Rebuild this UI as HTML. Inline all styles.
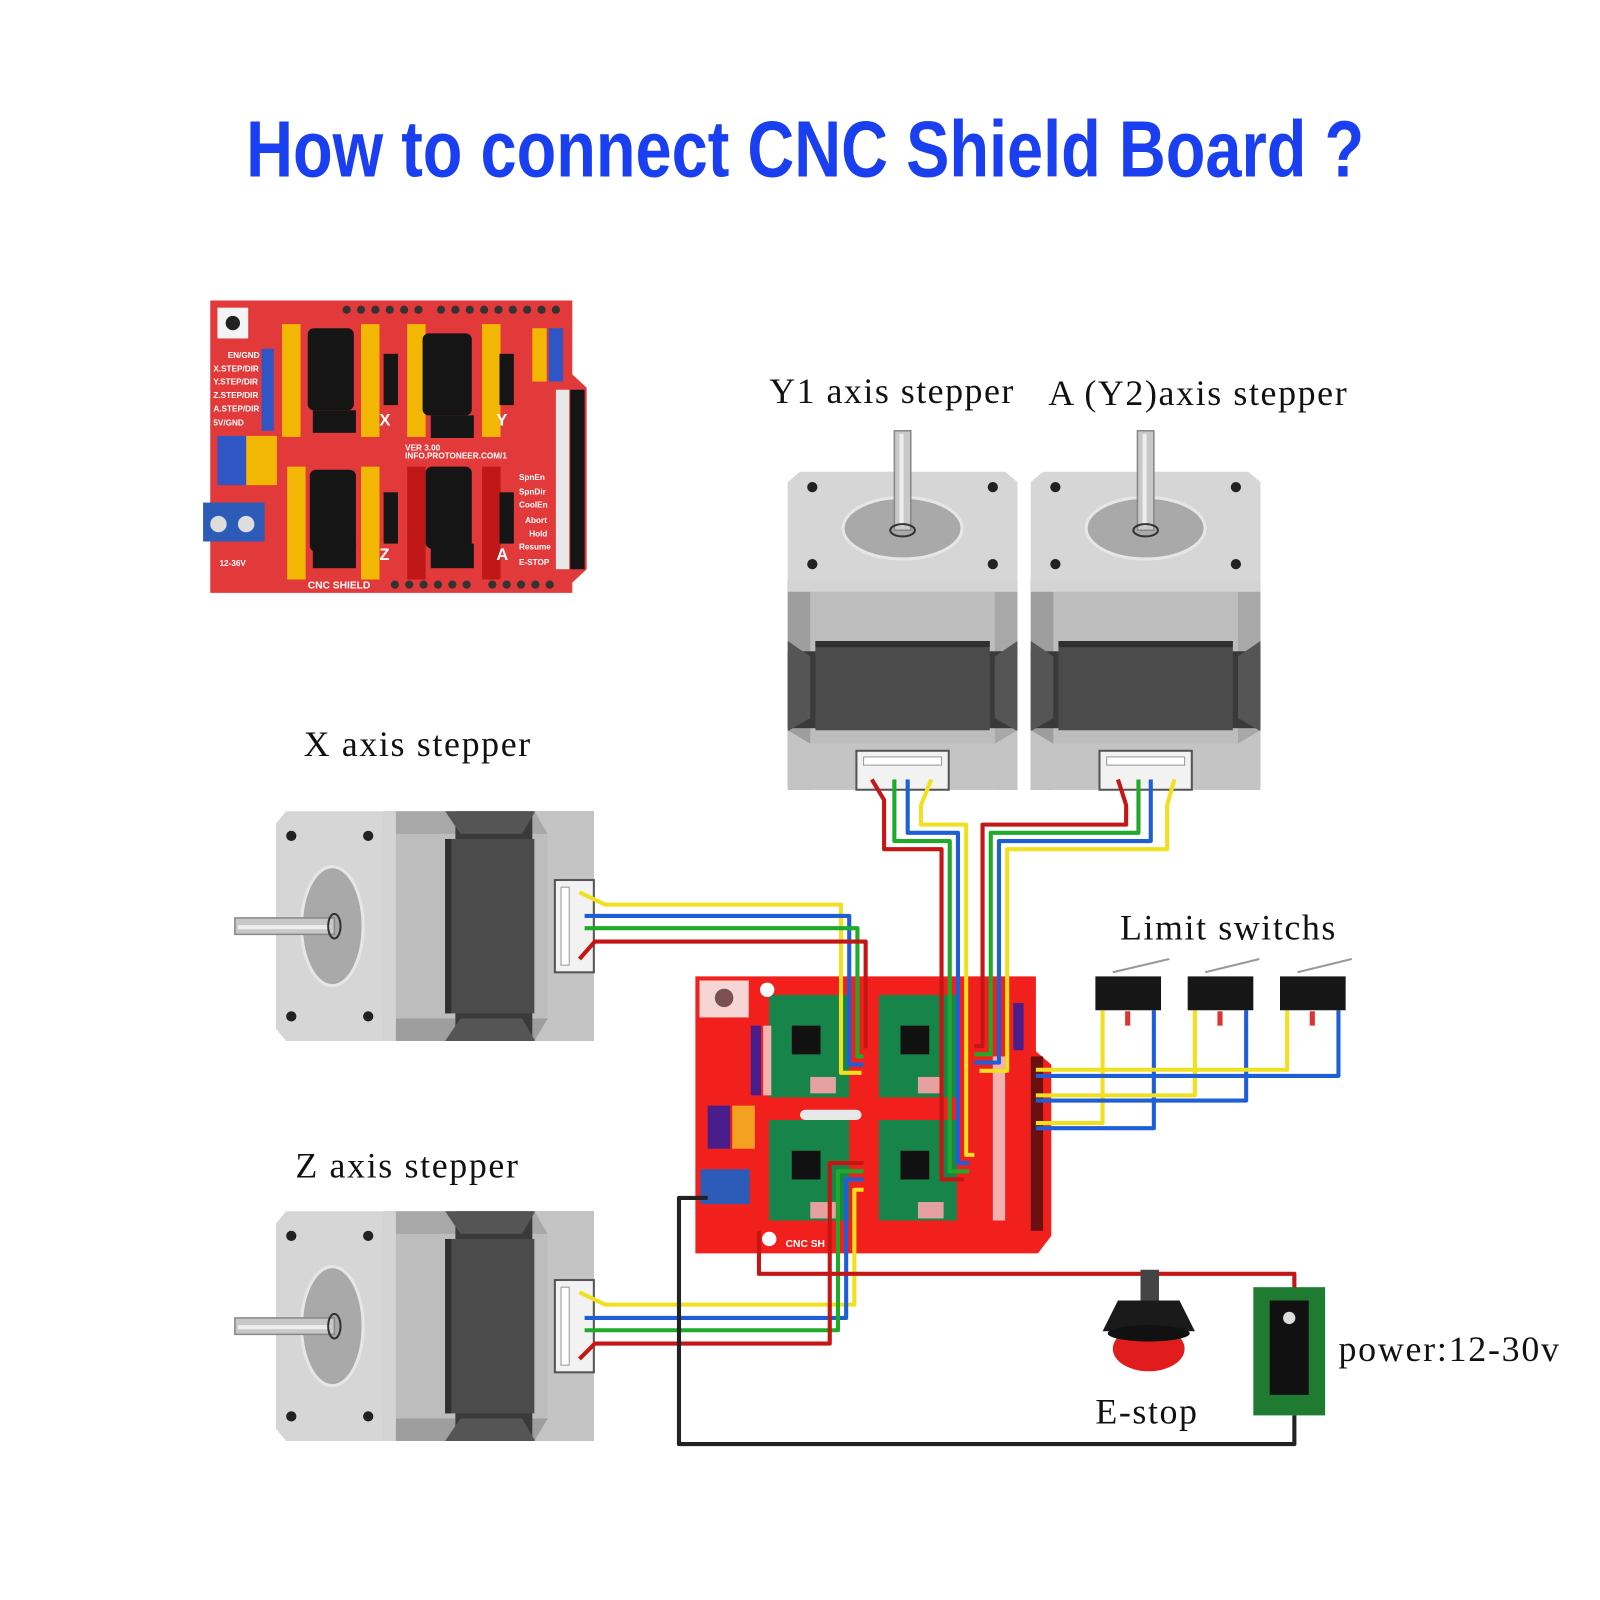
<!DOCTYPE html>
<html><head><meta charset="utf-8"><style>
html,body{margin:0;padding:0;background:#fff;}
svg{display:block;}
</style></head><body>
<svg width="1600" height="1600" viewBox="0 0 1560 1560" xmlns="http://www.w3.org/2000/svg">
<defs>
<g id="motor">
  <path d="M-112,-30 L112,-30 L112,175 L-112,175 Z" fill="#bdbdbd"/>
  <path d="M-112,-30 L-90,-30 L-90,175 L-112,175 Z" fill="#9e9e9e"/>
  <path d="M90,-30 L112,-30 L112,175 L90,175 Z" fill="#a8a8a8"/>
  <rect x="-112" y="40" width="224" height="75" fill="#3a3a3a"/>
  <path d="M-112,30 L-90,45 L-90,105 L-112,118 Z" fill="#555"/>
  <path d="M112,30 L90,45 L90,105 L112,118 Z" fill="#555"/>
  <rect x="-85" y="30" width="170" height="87" fill="#4b4b4b"/>
  <rect x="-85" y="30" width="170" height="6" fill="#2f2f2f"/>
  <path d="M-112,117 L-90,130 L90,130 L112,117 L112,175 L-112,175 Z" fill="#c4c4c4"/>
  <rect x="-112" y="-30" width="224" height="12" fill="#d4d4d4"/>
  <path d="M-100,-135 L100,-135 L112,-125 L112,-30 L-112,-30 L-112,-125 Z" fill="#d6d6d6"/>
  <ellipse cx="0" cy="-80" rx="58" ry="30" fill="#a9a9a9" stroke="#e6e6e6" stroke-width="3"/>
  <circle cx="-88" cy="-120" r="5" fill="#222"/>
  <circle cx="88" cy="-120" r="5" fill="#222"/>
  <circle cx="-88" cy="-45" r="5" fill="#222"/>
  <circle cx="88" cy="-45" r="5" fill="#222"/>
  <rect x="-8" y="-175" width="16" height="97" fill="#c8c8c8" stroke="#888" stroke-width="1.5"/>
  <rect x="-3" y="-172" width="4" height="90" fill="#eee"/>
  <ellipse cx="0" cy="-78" rx="12" ry="6" fill="none" stroke="#333" stroke-width="2"/>
  <rect x="-45" y="137" width="90" height="38" fill="#f2f2f2" stroke="#555" stroke-width="2"/>
  <rect x="-38" y="143" width="76" height="8" fill="#fff" stroke="#999"/>
</g>
</defs>

<text x="785" y="172" text-anchor="middle" font-family="'Liberation Sans Narrow','Liberation Sans',sans-serif" font-weight="bold" font-size="78" fill="#1a3ff0" textLength="1090" lengthAdjust="spacingAndGlyphs">How to connect CNC Shield Board ?</text>

<g>
  <path d="M205,293 L558,293 L558,365 L572,378 L572,555 L558,568 L558,578 L205,578 Z" fill="#e23a3a"/>
  <rect x="212" y="300" width="30" height="30" fill="#f4f4f4"/><circle cx="227" cy="315" r="7" fill="#222"/>
  <g fill="#333">
    <circle cx="338" cy="302" r="4"/><circle cx="352" cy="302" r="4"/><circle cx="366" cy="302" r="4"/><circle cx="380" cy="302" r="4"/><circle cx="394" cy="302" r="4"/><circle cx="408" cy="302" r="4"/><circle cx="430" cy="302" r="4"/><circle cx="444" cy="302" r="4"/><circle cx="458" cy="302" r="4"/><circle cx="472" cy="302" r="4"/><circle cx="486" cy="302" r="4"/><circle cx="500" cy="302" r="4"/><circle cx="514" cy="302" r="4"/><circle cx="528" cy="302" r="4"/><circle cx="542" cy="302" r="4"/>
    <circle cx="385" cy="570" r="4"/><circle cx="399" cy="570" r="4"/><circle cx="413" cy="570" r="4"/><circle cx="427" cy="570" r="4"/><circle cx="441" cy="570" r="4"/><circle cx="455" cy="570" r="4"/><circle cx="480" cy="570" r="4"/><circle cx="494" cy="570" r="4"/><circle cx="508" cy="570" r="4"/><circle cx="522" cy="570" r="4"/><circle cx="536" cy="570" r="4"/>
  </g>
  <g fill="#f2b705">
    <rect x="275" y="316" width="18" height="110"/><rect x="352" y="316" width="18" height="110"/>
    <rect x="397" y="316" width="18" height="110"/><rect x="470" y="316" width="18" height="110"/>
    <rect x="280" y="455" width="18" height="110"/><rect x="352" y="455" width="18" height="110"/>
    <rect x="240" y="425" width="30" height="48"/><rect x="519" y="320" width="14" height="52"/>
  </g>
  <g fill="#c01818"><rect x="397" y="455" width="18" height="110"/><rect x="470" y="455" width="18" height="110"/></g>
  <g fill="#2f56c4"><rect x="255" y="340" width="12" height="80"/><rect x="212" y="425" width="28" height="48"/><rect x="535" y="320" width="14" height="52"/></g>
  <g fill="#151515">
    <rect x="300" y="320" width="45" height="80" rx="6"/><rect x="412" y="325" width="48" height="80" rx="6"/>
    <rect x="302" y="458" width="45" height="80" rx="6"/><rect x="415" y="455" width="45" height="80" rx="6"/>
    <rect x="305" y="400" width="42" height="22"/><rect x="420" y="405" width="42" height="22"/>
    <rect x="305" y="530" width="42" height="24"/><rect x="420" y="530" width="42" height="24"/>
    <rect x="374" y="345" width="14" height="50"/><rect x="487" y="345" width="14" height="50"/>
    <rect x="374" y="480" width="14" height="50"/><rect x="487" y="480" width="14" height="50"/>
    <rect x="556" y="380" width="14" height="175"/>
  </g>
  <rect x="542" y="380" width="13" height="175" fill="#e8e8e8"/>
  <rect x="198" y="490" width="60" height="38" fill="#2d5bb8"/>
  <circle cx="213" cy="511" r="8" fill="#ddd"/><circle cx="240" cy="511" r="8" fill="#ddd"/>
  <g font-family="'Liberation Sans',sans-serif" font-size="8" fill="#fff" font-weight="bold">
    <text x="222" y="349">EN/GND</text><text x="208" y="362">X.STEP/DIR</text><text x="208" y="375">Y.STEP/DIR</text><text x="208" y="388">Z.STEP/DIR</text><text x="208" y="401">A.STEP/DIR</text><text x="208" y="415">5V/GND</text>
    <text x="395" y="439">VER 3.00</text><text x="395" y="447">INFO.PROTONEER.COM/1</text>
    <text x="506" y="468">SpnEn</text><text x="506" y="482">SpnDir</text><text x="506" y="495">CoolEn</text><text x="512" y="510">Abort</text><text x="516" y="523">Hold</text><text x="506" y="536">Resume</text><text x="506" y="551">E-STOP</text>
    <text x="300" y="574" font-size="10">CNC  SHIELD</text><text x="214" y="552">12-36V</text>
  </g>
  <g font-family="'Liberation Sans',sans-serif" font-size="16" fill="#fff" font-weight="bold">
    <text x="370" y="415">X</text><text x="484" y="415">Y</text><text x="370" y="546">Z</text><text x="484" y="546">A</text>
  </g>
</g>

<g font-family="'Liberation Serif',serif" font-size="35" fill="#111" lengthAdjust="spacing">
  <text x="750" y="393" textLength="238">Y1 axis stepper</text>
  <text x="1022" y="395" textLength="291">A (Y2)axis stepper</text>
  <text x="296" y="737" textLength="221">X axis stepper</text>
  <text x="288" y="1148" textLength="217">Z axis stepper</text>
  <text x="1092" y="916" textLength="210">Limit switchs</text>
  <text x="1305" y="1327" textLength="215">power:12-30v</text>
  <text x="1068" y="1388" textLength="99">E-stop</text>
</g>

<use href="#motor" transform="translate(880,595)"/>
<use href="#motor" transform="translate(1117,595)"/>
<use href="#motor" transform="translate(404,903) rotate(-90)"/>
<use href="#motor" transform="translate(404,1293) rotate(-90)"/>

<path d="M678,952 L1010,952 L1010,1025 L1025,1038 L1025,1205 L1012,1222 L678,1222 Z" fill="#f2201c"/>
<rect x="682" y="956" width="48" height="36" fill="#f6d5d5"/><circle cx="706" cy="973" r="9" fill="#7a5050"/>
<g fill="#17854a">
  <rect x="750" y="970" width="78" height="100"/><rect x="857" y="970" width="76" height="100"/>
  <rect x="750" y="1092" width="78" height="98"/><rect x="857" y="1092" width="76" height="98"/>
</g>
<g fill="#111">
  <rect x="772" y="1000" width="28" height="28"/><rect x="878" y="1000" width="28" height="28"/>
  <rect x="772" y="1122" width="28" height="28"/><rect x="878" y="1122" width="28" height="28"/>
</g>
<g fill="#e5a0a0"><rect x="790" y="1050" width="25" height="16"/><rect x="895" y="1050" width="25" height="16"/><rect x="790" y="1172" width="25" height="16"/><rect x="895" y="1172" width="25" height="16"/></g>
<g fill="#4a1e8a"><rect x="732" y="1000" width="10" height="68"/><rect x="690" y="1078" width="22" height="42"/><rect x="988" y="978" width="10" height="46"/></g>
<g fill="#f4a020"><rect x="714" y="1078" width="22" height="42"/></g>
<g fill="#f5b0b0"><rect x="744" y="1000" width="8" height="68"/><rect x="968" y="1030" width="12" height="160"/></g>
<rect x="1005" y="1030" width="12" height="170" fill="#6a1010"/>
<rect x="780" y="1082" width="60" height="10" rx="5" fill="#e8e8e8"/>
<rect x="683" y="1140" width="48" height="34" fill="#2d5bb8"/>
<g fill="#fff" font-family="'Liberation Sans',sans-serif" font-size="10" font-weight="bold"><text x="766" y="1216">CNC SH</text></g>
<g fill="#fff"><circle cx="750" cy="1208" r="7"/><circle cx="748" cy="965" r="7"/></g>

<g fill="none" stroke-width="4" stroke-linejoin="round">
  <path d="M850,760 L862,780 L862,828 L918,828 L918,1150 L940,1150" stroke="#c51515"/>
  <path d="M872,760 L872,820 L926,820 L926,1142 L945,1142" stroke="#1faa2a"/>
  <path d="M885,760 L885,812 L934,812 L934,1134 L945,1134" stroke="#1e5fd8"/>
  <path d="M908,760 L898,785 L898,804 L942,804 L942,1126 L950,1126" stroke="#f0e020"/>
  <path d="M1090,760 L1098,785 L1098,804 L958,804 L958,1020 L950,1020" stroke="#c51515"/>
  <path d="M1110,760 L1110,812 L966,812 L966,1028 L950,1028" stroke="#1faa2a"/>
  <path d="M1122,760 L1122,820 L974,820 L974,1036 L950,1036" stroke="#1e5fd8"/>
  <path d="M1145,760 L1138,785 L1138,828 L982,828 L982,1044 L955,1044" stroke="#f0e020"/>
  <path d="M565,870 L590,882 L820,882 L820,1046 L840,1046" stroke="#f0e020"/>
  <path d="M570,893 L828,893 L828,1038 L842,1038" stroke="#1e5fd8"/>
  <path d="M570,905 L836,905 L836,1030 L842,1030" stroke="#1faa2a"/>
  <path d="M565,935 L580,918 L844,918 L844,1022" stroke="#c51515"/>
  <path d="M565,1260 L590,1272 L833,1272 L833,1160 L842,1160" stroke="#f0e020"/>
  <path d="M570,1285 L825,1285 L825,1150 L842,1150" stroke="#1e5fd8"/>
  <path d="M570,1297 L817,1297 L817,1142 L842,1142" stroke="#1faa2a"/>
  <path d="M565,1325 L580,1310 L809,1310 L809,1134 L842,1134" stroke="#c51515"/>
  <path d="M1075,985 L1075,1095 L1010,1095" stroke="#f0e020"/>
  <path d="M1125,985 L1125,1100 L1010,1100" stroke="#1e5fd8"/>
  <path d="M1165,985 L1165,1068 L1010,1068" stroke="#f0e020"/>
  <path d="M1215,985 L1215,1073 L1010,1073" stroke="#1e5fd8"/>
  <path d="M1255,985 L1255,1043 L1010,1043" stroke="#f0e020"/>
  <path d="M1305,985 L1305,1049 L1010,1049" stroke="#1e5fd8"/>
  <path d="M740,1200 L740,1242 L1262,1242 L1262,1258" stroke="#c51515"/>
  <path d="M690,1168 L662,1168 L662,1408 L1262,1408 L1262,1380" stroke="#222"/>
</g>

<g fill="#161616">
  <rect x="1068" y="952" width="64" height="33"/><rect x="1158" y="952" width="64" height="33"/><rect x="1248" y="952" width="64" height="33"/>
</g>
<g stroke="#999" stroke-width="2"><line x1="1085" y1="948" x2="1140" y2="935"/><line x1="1175" y1="948" x2="1228" y2="935"/><line x1="1265" y1="948" x2="1318" y2="935"/></g>
<g fill="#d33"><rect x="1097" y="986" width="5" height="14"/><rect x="1187" y="986" width="5" height="14"/><rect x="1277" y="986" width="5" height="14"/></g>

<rect x="1112" y="1238" width="18" height="30" fill="#444"/>
<path d="M1090,1268 L1150,1268 L1165,1298 L1075,1298 Z" fill="#1a1a1a"/>
<ellipse cx="1120" cy="1315" rx="35" ry="22" fill="#e11c1c"/>
<ellipse cx="1120" cy="1300" rx="40" ry="8" fill="#111"/>

<rect x="1222" y="1255" width="70" height="125" fill="#1f7a32"/>
<rect x="1238" y="1268" width="38" height="92" fill="#111"/>
<circle cx="1257" cy="1285" r="6" fill="#ddd"/>
</svg>
</body></html>
